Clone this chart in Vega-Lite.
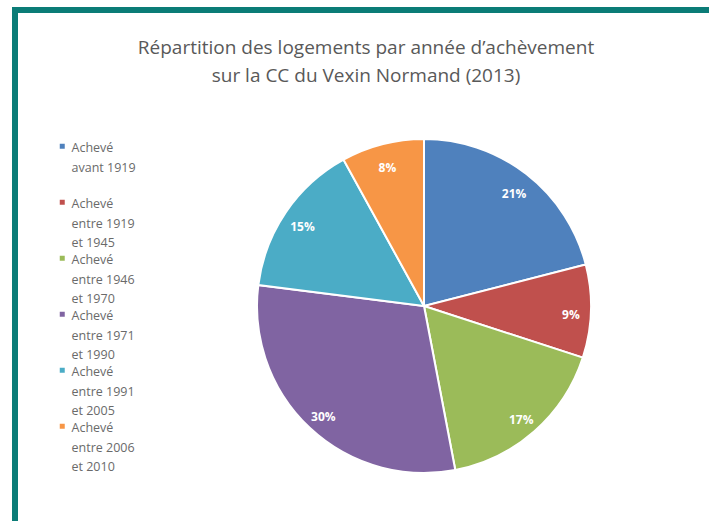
{
  "$schema": "https://vega.github.io/schema/vega-lite/v6.json",
  "autosize": {"type": "none"},
  "width": 818,
  "height": 592,
  "padding": {"left": 15, "top": 10, "right": -124, "bottom": -81},
  "background": "white",
  "view": {"stroke": "#0B7C77", "strokeWidth": 6, "fill": "white"},
  "config": {
    "font": "Open Sans",
    "style": {"guide-label": {"lineHeight": 19.5, "dy": -4}}
  },
  "title": {
    "text": ["Répartition des logements par année d’achèvement", "sur la CC du Vexin Normand (2013)"],
    "anchor": "middle",
    "frame": "group",
    "orient": "top",
    "offset": -76,
    "dx": -58,
    "fontSize": 19,
    "fontWeight": "normal",
    "color": "#595959",
    "lineHeight": 28,
    "font": "Open Sans"
  },
  "data": {
    "values": [
      {"idx": 1, "cat": "Achevé|avant 1919| ", "pct": 21, "label": "21%"},
      {"idx": 2, "cat": "Achevé|entre 1919|et 1945", "pct": 9, "label": "9%"},
      {"idx": 3, "cat": "Achevé|entre 1946|et 1970", "pct": 17, "label": "17%"},
      {"idx": 4, "cat": "Achevé|entre 1971|et 1990", "pct": 30, "label": "30%"},
      {"idx": 5, "cat": "Achevé|entre 1991|et 2005", "pct": 15, "label": "15%"},
      {"idx": 6, "cat": "Achevé|entre 2006|et 2010", "pct": 8, "label": "8%"}
    ]
  },
  "encoding": {
    "theta": {"field": "pct", "type": "quantitative", "stack": true},
    "order": {"field": "idx", "type": "quantitative"},
    "color": {
      "field": "cat",
      "type": "nominal",
      "sort": null,
      "scale": {"range": ["#4F81BD", "#C0504D", "#9BBB59", "#8064A2", "#4BACC6", "#F79646"]},
      "legend": {
        "title": null,
        "orient": "none",
        "legendX": 41,
        "legendY": 130,
        "symbolType": "square",
        "symbolSize": 25,
        "symbolStrokeWidth": 0,
        "labelExpr": "split(datum.label, '|')",
        "labelFontSize": 12.5,
        "labelColor": "#6a6a6a",
        "labelLimit": 200,
        "labelBaseline": "top",
        "labelOffset": 3,
        "rowPadding": 2,
        "symbolOffset": 0
      }
    }
  },
  "layer": [
    {
      "mark": {"type": "arc", "outerRadius": 167, "stroke": "white", "strokeWidth": 2, "x": 409, "y": 296}
    },
    {
      "mark": {"type": "text", "radius": 147, "x": 409, "y": 296, "dy": 4, "fontWeight": "bold", "fontSize": 12, "fill": "white"},
      "encoding": {"text": {"field": "label"}, "color": {"value": "white"}}
    }
  ]
}
